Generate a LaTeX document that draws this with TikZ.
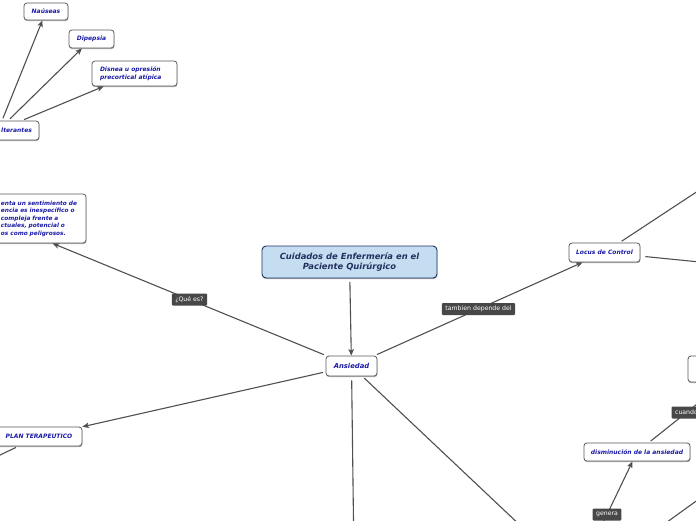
\documentclass[tikz,border=0pt]{standalone}
\usepackage{fontspec}
\setmainfont{DejaVu Sans}
\usetikzlibrary{arrows.meta, shadows}
\definecolor{mapblue}{HTML}{1A1AA6}
\definecolor{mapnavy}{HTML}{22305E}
\definecolor{mapsky}{HTML}{C4DDF1}
\definecolor{mapline}{HTML}{505050}
\definecolor{maptag}{HTML}{474747}
\definecolor{mapedge}{HTML}{5A5A5A}

\begin{document}
\begin{tikzpicture}[x=1pt, y=-1pt,
    topic/.style={draw=mapedge, fill=white, rounded corners=3pt, line width=0.8pt,
      text=mapblue, font=\bfseries\itshape\fontsize{6}{7.5}\selectfont,
      inner xsep=7pt, inner ysep=0pt,
      drop shadow={shadow xshift=0.4pt, shadow yshift=-1.2pt, fill=black, opacity=0.3}},
    tag/.style={fill=maptag, text=white, font=\fontsize{6.2}{7}\selectfont,
      inner xsep=3.5pt, inner ysep=0pt, minimum height=12pt, rounded corners=1pt},
    conn/.style={draw=mapline, line width=1.1pt, shorten <=2.5pt},
    arr/.style={conn, -{Stealth[length=6.5pt, width=5.5pt, inset=1.5pt]}}]
  \useasboundingbox (0,0) rectangle (696,520);
  \clip (0,0) rectangle (696,520);
  \fill[white] (0,0) rectangle (696,520);

  % central topic
  \node[topic, draw=mapnavy, fill=mapsky, text=mapnavy, line width=0.9pt, rounded corners=4pt,
        minimum width=175pt, minimum height=32pt, align=center,
        font=\bfseries\itshape\fontsize{8.4}{10.5}\selectfont] (main) at (349.5,262)
        {Cuidados de Enfermería en el\\Paciente Quirúrgico};
  \node[topic, minimum width=51pt, minimum height=20pt,
        font=\bfseries\itshape\fontsize{6.8}{8}\selectfont] (ans) at (351.5,366) {Ansiedad};

  % branches
  \node[topic, minimum width=71pt, minimum height=19pt] (loc) at (604.5,252.5) {Locus de Control};
  \node[topic, minimum width=86pt, minimum height=19pt] (plan) at (39,436.5) {PLAN TERAPEUTICO};
  \node[topic, text width=170pt, inner xsep=9pt, align=right, minimum height=49pt,
        font=\bfseries\itshape\fontsize{5.8}{7.5}\selectfont] (def) at (-8,218.5)
        {\begin{tabular}{@{}l@{}}enta un sentimiento de\\encia es inespecífico o\\compleja frente a\\ctuales, potencial o\\os como peligrosos.\end{tabular}};
  \node[topic, text width=68pt, align=right, minimum height=19pt] (alt) at (-2,130.5) {lterantes};
  \node[topic, minimum width=44pt, minimum height=17pt] (nau) at (46,11.5) {Naúseas};
  \node[topic, minimum width=45pt, minimum height=18pt] (dip) at (91.5,39) {Dipepsia};
  \node[topic, text width=69pt, inner xsep=8pt, align=left, minimum height=25pt] (dis) at (134.5,73.5)
        {Disnea u opresión\\precortical atípica};
  \node[topic, minimum width=106pt, minimum height=18pt] (dism) at (637,452) {disminución de la ansiedad};
  \node[topic, minimum width=106pt, minimum height=26pt] (rbox) at (741,369) {};

  % free ends off the page
  \coordinate (ansS) at (354,560);
  \coordinate (ansSE) at (560,563);
  \coordinate (locNE) at (780,137);
  \coordinate (locE) at (800,272);
  \coordinate (planSW) at (-40,474);
  \coordinate (genSrc) at (590,550);
  \coordinate (brA) at (620,556);
  \coordinate (brB) at (760,455);

  % connectors
  \draw[arr, shorten <=3.5pt] (main) -- (ans);
  \draw[arr] (ans) -- node[tag] {¿Qué es?} (def);
  \draw[arr] (ans) -- node[tag] {tambien depende del} (loc);
  \draw[arr] (ans) -- (plan);
  \draw[conn, shorten <=4pt] (ans) -- (ansS);
  \draw[conn] (ans) -- (ansSE);
  \draw[conn] (loc) -- (locNE);
  \draw[conn, shorten <=5pt] (loc) -- (locE);
  \draw[conn] (plan) -- (planSW);
  \draw[arr] (alt) -- (nau);
  \draw[arr] (alt) -- (dip);
  \draw[arr] (alt) -- (dis);
  \draw[arr] (genSrc) -- node[tag, pos=0.4] {genera} (dism);
  \draw[arr] (dism) -- node[tag] {cuando} (rbox);
  \draw[conn] (brA) -- (brB);
\end{tikzpicture}
\end{document}
